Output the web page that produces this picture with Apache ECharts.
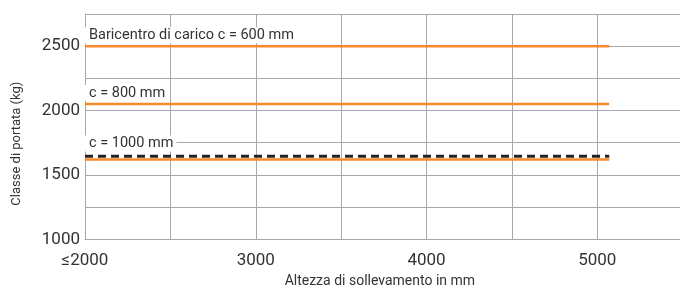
<!DOCTYPE html>
<html>
<head>
<meta charset="utf-8">
<script src="https://cdn.jsdelivr.net/npm/echarts@6/dist/echarts.min.js"></script>
<style>
  html, body { margin: 0; padding: 0; background: #fff; }
  #chart { width: 680px; height: 289px; }
</style>
</head>
<body>
<div id="chart"></div>
<script>
// load centre lines (c = 600 / 800 / 1000 mm)
const loadLabels = ['Baricentro di carico c = 600 mm', 'c = 800 mm', 'c = 1000 mm'];
const capacities = [2500, 2050, 1620];
const dashedCapacity = 1645;
const liftRange = [2000, 5070];
const xTickLabels = { 2000: '≤2000', 3000: '3000', 4000: '4000', 5000: '5000' };
const yTickLabels = [1000, 1500, 2000, 2500];

const orange = '#f58a2a';
const gridColor = '#a8a8a8';
const textColor = '#333';

const chart = echarts.init(document.getElementById('chart'));

const labelOffsets = [[0, 2], [0, 2], [0, -3]];

const orangeSeries = capacities.map((c, i) => ({
  name: loadLabels[i],
  type: 'line',
  symbol: 'circle',
  symbolSize: 0,
  silent: true,
  z: 3,
  lineStyle: { color: orange, width: 2.5 },
  itemStyle: { color: orange },
  data: [
    {
      value: [liftRange[0], c],
      label: {
        show: true,
        position: 'top',
        align: 'left',
        offset: labelOffsets[i],
        formatter: loadLabels[i],
        color: textColor,
        fontFamily: 'Roboto',
        fontSize: 14.5,
        lineHeight: 16,
        backgroundColor: '#fff',
        padding: [0, 3, 0, 4]
      }
    },
    [liftRange[1], c]
  ]
}));

const option = {
  animation: false,
  grid: { left: 85, top: 14, width: 597.7, height: 225.3, outerBoundsMode: 'none' },
  xAxis: {
    type: 'value',
    min: 2000,
    max: 5500,
    interval: 500,
    name: 'Altezza di sollevamento in mm',
    nameLocation: 'middle',
    nameGap: 35,
    nameTextStyle: { color: textColor, fontFamily: 'Roboto', fontSize: 14, padding: [0, 8, 0, 0] },
    axisLine: { show: true, lineStyle: { color: gridColor } },
    axisTick: { show: false },
    splitLine: { show: true, lineStyle: { color: gridColor, width: 1 } },
    axisLabel: {
      color: textColor,
      fontFamily: 'Roboto',
      fontSize: 17,
      margin: 13,
      showMaxLabel: false,
      formatter: v => xTickLabels[v] || ''
    }
  },
  yAxis: {
    type: 'value',
    min: 1000,
    max: 2750,
    interval: 250,
    name: 'Classe di portata (kg)',
    nameLocation: 'middle',
    nameGap: 62,
    nameTextStyle: { color: textColor, fontFamily: 'Roboto', fontSize: 13, padding: [0, 34, 0, 0] },
    axisLine: { show: true, lineStyle: { color: gridColor } },
    axisTick: { show: false },
    splitLine: { show: true, lineStyle: { color: gridColor, width: 1 } },
    axisLabel: {
      color: textColor,
      fontFamily: 'Roboto',
      fontSize: 17,
      margin: 5,
      formatter: v => (yTickLabels.includes(v) ? String(v) : '')
    }
  },
  series: [
    ...orangeSeries,
    {
      name: 'limite',
      type: 'line',
      symbol: 'none',
      silent: true,
      z: 4,
      lineStyle: { color: '#222', width: 3, type: [8, 5] },
      data: [[liftRange[0], dashedCapacity], [liftRange[1], dashedCapacity]]
    }
  ]
};

chart.setOption(option);
</script>
</body>
</html>
